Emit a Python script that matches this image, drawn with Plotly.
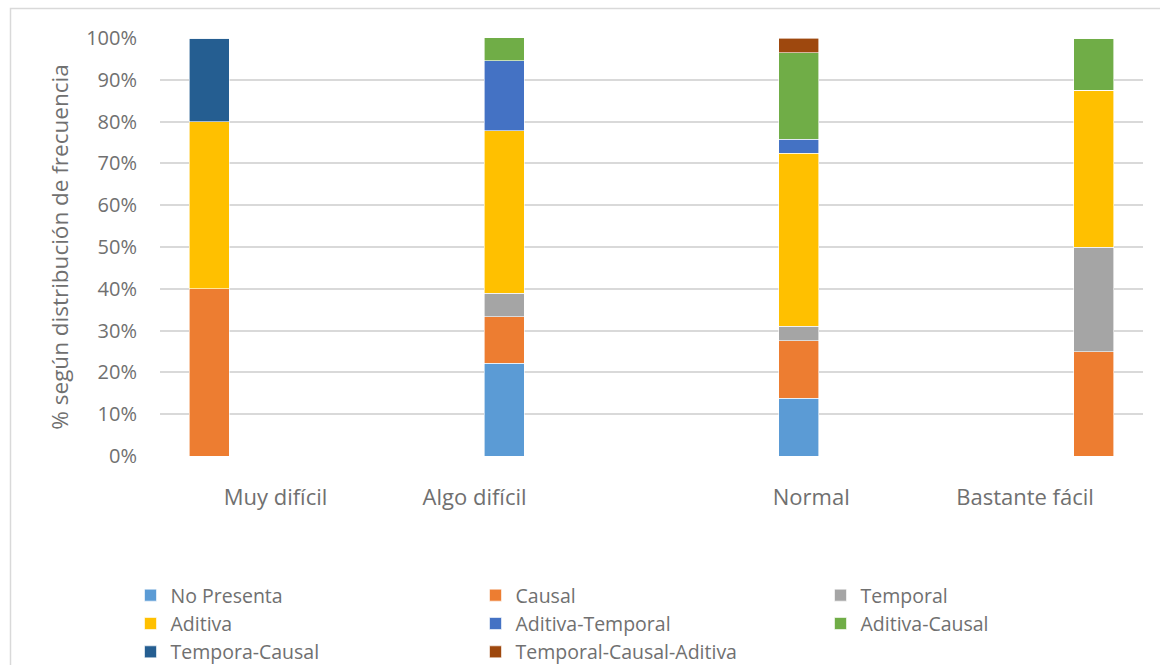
import plotly.graph_objects as go

# Difficulty categories and the share (%) of each connector type within them
categories = ["Muy difícil", "Algo difícil", "Normal", "Bastante fácil"]

series_names = [
    "No Presenta", "Causal", "Temporal", "Aditiva",
    "Aditiva-Temporal", "Aditiva-Causal", "Tempora-Causal",
    "Temporal-Causal-Aditiva",
]

no_presenta = [0, 22.2, 13.8, 0]
causal = [40.0, 11.1, 13.8, 25.0]
temporal = [0, 5.6, 3.4, 25.0]
aditiva = [40.0, 38.9, 41.4, 37.5]
aditiva_temporal = [0, 16.7, 3.4, 0]
aditiva_causal = [0, 5.6, 20.7, 12.5]
tempora_causal = [20.0, 0, 0, 0]
temporal_causal_aditiva = [0, 0, 3.4, 0]

series_values = [
    no_presenta, causal, temporal, aditiva,
    aditiva_temporal, aditiva_causal, tempora_causal,
    temporal_causal_aditiva,
]

y_ticks = [0, 10, 20, 30, 40, 50, 60, 70, 80, 90, 100]
y_tick_labels = ["0%", "10%", "20%", "30%", "40%", "50%",
                 "60%", "70%", "80%", "90%", "100%"]

colors = [
    "#5B9BD5", "#ED7D31", "#A5A5A5", "#FFC000",
    "#4472C4", "#70AD47", "#255E91", "#9E480E",
]

# Each category sits in its own slot of a four-slot cluster
n = len(categories)
slot = 0.2
bar_x = [i + (i - (n - 1) / 2) * slot for i in range(n)]
label_x = [-0.03, 0.78, 2.15, 3.02]

FONT = "'Open Sans', Lato, sans-serif"
TXT = "#707070"

fig = go.Figure()
for name, vals, col in zip(series_names, series_values, colors):
    fig.add_trace(go.Bar(
        x=bar_x, y=vals, name=name, width=0.163,
        marker=dict(color=col, line=dict(color="white", width=0.6)),
    ))

fig.update_layout(
    width=1160, height=665,
    barmode="stack",
    paper_bgcolor="white", plot_bgcolor="white",
    margin=dict(l=160, r=17, t=38, b=209, autoexpand=False),
    font=dict(family=FONT, color=TXT),
    xaxis=dict(
        range=[-0.5, 3.5], tickvals=label_x, ticktext=categories,
        showgrid=False, zeroline=False, showline=False, ticks="",
        tickfont=dict(size=22, color=TXT), ticklabelstandoff=26,
    ),
    yaxis=dict(
        range=[0, 100], tickvals=y_ticks, ticktext=y_tick_labels,
        showgrid=True, gridcolor="#D9D9D9", gridwidth=1.5,
        zeroline=False, showline=False, ticks="",
        tickfont=dict(size=20, color=TXT), ticklabelstandoff=22,
        title=dict(text="% según distribución de frecuencia",
                   font=dict(size=22.5, color=TXT), standoff=11),
    ),
    legend=dict(
        orientation="h", traceorder="normal",
        x=-0.030, xanchor="left", y=-0.287, yanchor="top",
        entrywidth=300, entrywidthmode="pixels",
        font=dict(size=19.5, color=TXT), itemwidth=30,
        bgcolor="rgba(0,0,0,0)",
    ),
    shapes=[dict(
        type="rect", xref="paper", yref="paper",
        x0=(10.5 - 160) / 983, x1=(1175 - 160) / 983,
        y0=(456 - 720) / 418, y1=(456 - 8.5) / 418,
        line=dict(color="#D9D9D9", width=1.5), layer="below",
    )],
)

fig.write_html("out.html")
